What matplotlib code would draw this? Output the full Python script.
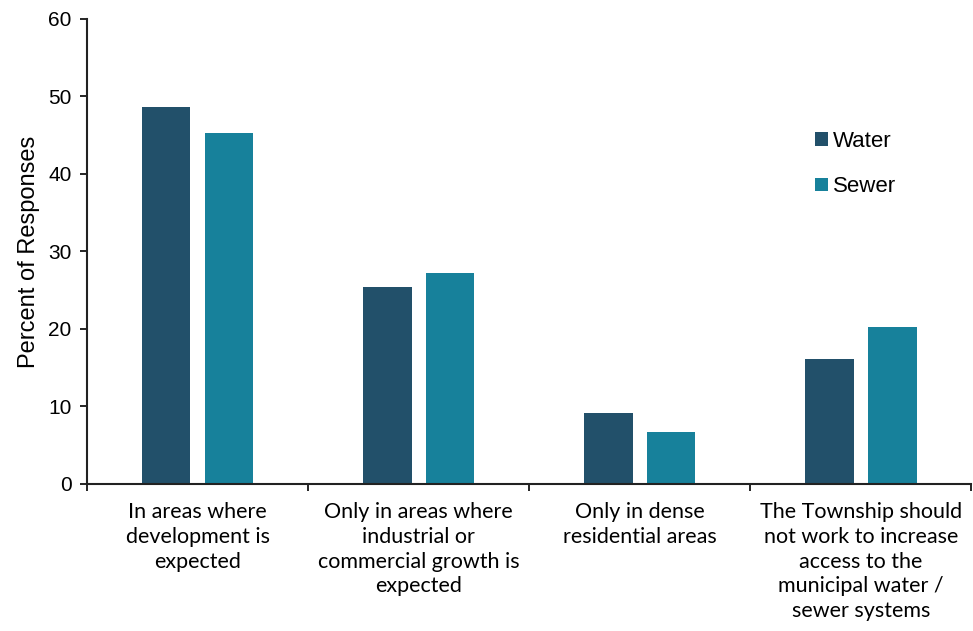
import matplotlib
matplotlib.use("Agg")
import matplotlib.pyplot as plt
import numpy as np

# survey responses, percent
categories = [
    "In areas where\ndevelopment is\nexpected",
    "Only in areas where\nindustrial or\ncommercial growth is\nexpected",
    "Only in dense\nresidential areas",
    "The Township should\nnot work to increase\naccess to the\nmunicipal water /\nsewer systems",
]
water = [48.7, 25.4, 9.1, 16.1]
sewer = [45.3, 27.2, 6.7, 20.2]

water_color = "#22506a"
sewer_color = "#17819b"

plt.rcParams["font.family"] = ["Liberation Sans", "DejaVu Sans"]

fig = plt.figure(figsize=(9.73, 6.31), dpi=100)
ax = fig.add_axes([0.0894, 0.233, 0.909, 0.737])

x = np.arange(len(categories))
w = 0.22
off = 0.142
ax.bar(x - off, water, w, color=water_color, label="Water")
ax.bar(x + off, sewer, w, color=sewer_color, label="Sewer")

ax.set_xlim(-0.5, len(categories) - 0.5)
ax.set_ylim(0, 60)
ax.set_yticks(range(0, 61, 10))
ax.tick_params(axis="y", labelsize=15, length=5, width=1.2, direction="out", pad=6)

# category labels centred, ticks on the boundaries
ax.set_xticks(x)
ax.set_xticklabels(categories, family=["Lato", "DejaVu Sans"], fontsize=15.5, linespacing=1.3)
ax.tick_params(axis="x", which="major", length=0, pad=13)
ax.set_xticks(np.arange(-0.5, len(categories), 1.0), minor=True)
ax.tick_params(axis="x", which="minor", length=5, width=1.2, direction="out")

ax.set_ylabel("Percent of Responses", fontsize=17, labelpad=6)

for s in ["top", "right"]:
    ax.spines[s].set_visible(False)
for s in ["left", "bottom"]:
    ax.spines[s].set_linewidth(1.5)
    ax.spines[s].set_color("#222222")

ax.legend(loc="upper left", bbox_to_anchor=(0.801, 0.802), frameon=False, fontsize=16,
          handlelength=0.55, handleheight=0.55, handletextpad=0.25, labelspacing=1.1)

fig.savefig("out.png", dpi=100)
